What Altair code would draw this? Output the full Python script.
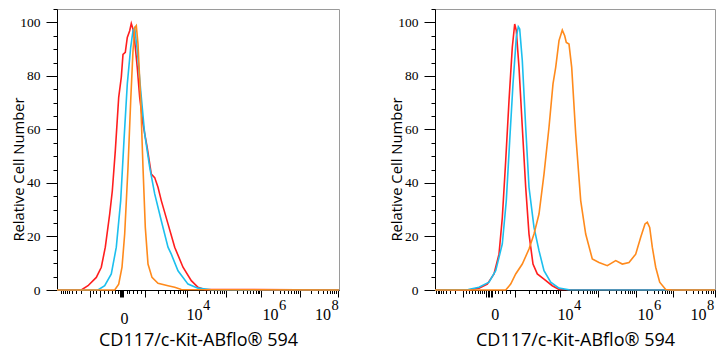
import math
import altair as alt
import pandas as pd

# ---------------- data (x = display position along the biexponential axis, 0 = left edge) ----------------
left_red_x = [0, 24.3, 31, 39.3, 44.3, 48.3, 52.7, 55.3, 58.3, 61.7, 64.3, 66, 68.3, 70.3, 72.7, 74.3, 76, 77.7,
              80.3, 82.7, 86, 90.3, 94.3, 97.7, 101, 104.3, 111, 117.7, 126, 134.3, 141, 147.7, 282]
left_red_y = [0, 0, 1.6, 4.7, 8.5, 16, 28.4, 37, 52, 72, 79.5, 88, 88.8, 94.4, 96.9, 99.6, 97.5, 93,
              83, 72, 62, 53, 43.3, 42, 38.4, 33.4, 24.7, 16, 8.5, 3.5, 1, 0.2, 0]
left_cyan_x = [0, 41, 47.7, 54.3, 59.3, 63.7, 67, 70.3, 73.7, 76, 77.7, 80.3, 83.7, 87.7, 92.7, 97.7, 104.3,
               111, 114.3, 121, 131, 141, 154.3, 282]
left_cyan_y = [0, 0, 1.6, 6, 16, 33.4, 56, 77, 90.7, 96.9, 98, 89.4, 74.5, 58.3, 45.8, 35.9, 25.9,
               16, 13.4, 7.2, 2.2, 0.7, 0.1, 0]
left_orange_x = [0, 57.7, 61.7, 65, 67.7, 71, 73.7, 76, 77.7, 79.3, 81, 83.7, 86, 88.3, 91, 95, 101, 111,
                 117.7, 124.3, 282]
left_orange_y = [0, 0, 2.2, 8.5, 21, 45.8, 70.7, 89.4, 98, 98.8, 91.9, 70.7, 45.8, 23.4, 9.7, 4.7, 2.5, 1.6,
                 1, 0.2, 0]

right_red_x = [0, 34, 44, 52.3, 59, 64, 67.3, 70.7, 74, 77.3, 79.7, 81.3, 84, 87.3, 90.7, 94, 98, 102.3,
               109, 117.3, 124, 280]
right_red_y = [0, 0, 0.7, 2.2, 6, 13.4, 27, 48.3, 70.7, 90.7, 99.4, 96.9, 83.2, 60.8, 38.4, 20.9, 9.7, 6,
               4.1, 1.6, 0.2, 0]
right_cyan_x = [0, 33.3, 44, 54, 60.7, 67.3, 71.3, 74.7, 78, 81.3, 83.3, 84.7, 87.3, 90.7, 94, 99, 104,
                109, 115.7, 124, 134, 280]
right_cyan_y = [0, 0.2, 1, 2.9, 7.2, 17.2, 33.4, 55.8, 77, 94.4, 98.4, 97.5, 85.7, 60.8, 38.4, 23.4, 14.7,
                7.2, 2.9, 0.7, 0.1, 0]
right_orange_x = [0, 70.7, 75.7, 80.7, 87.3, 94, 99, 104, 109, 114, 118, 120.7, 124, 127.3, 129.7, 131.3,
                  134, 136.7, 140.7, 145.7, 150.7, 157.3, 164, 172.3, 180.7, 187.3, 194, 200.7, 205.7, 210,
                  212.3, 214.7, 217.3, 220.7, 224.7, 230.7, 237.3, 280]
right_orange_y = [0, 0, 2.2, 6, 9.7, 15.3, 20.9, 28.4, 43.3, 60.8, 77, 83.2, 93.2, 97.1, 95, 92.5,
                  91.9, 83.2, 58.3, 33.4, 20.9, 11.6, 10.3, 9.1, 11, 9.7, 10.3, 13.4, 19.7, 24.7,
                  25.3, 23.4, 16, 8.5, 2.9, 0.2, 0, 0]

# axis tick labels: base text and raised exponent
x_label_text = ["0", "10", "10", "10"]
x_label_exp = ["", "4", "6", "8"]
left_label_pos = [67, 137, 213, 265.6]
right_label_pos = [59.7, 130, 210, 263]

# axis major tick positions (display units)
left_major = [33, 43, 63, 64, 65, 66, 67, 88, 130, 169, 204, 243, 281]
right_major = [28, 51, 52.5, 54, 55.5, 57, 80, 125, 163, 201, 238, 280]
left_extra_minor = [36, 39, 47, 51, 55, 58, 60.5, 69.5, 72, 76, 80, 84]
right_extra_minor = [31, 34, 37, 40, 43, 45, 47, 49, 60, 63, 67, 71, 75]
left_decades = [(88, 130), (130, 169), (169, 204), (204, 243), (243, 281)]
right_decades = [(80, 125), (125, 163), (163, 201), (201, 238), (238, 280)]

SERIES_COLORS = {"red": "#FF1E1E", "cyan": "#1CBFEE", "orange": "#FF8A1C"}
Y_MAX = 105
PLOT_H = 281
SERIF = "Liberation Serif"
SANS = "Open Sans"


def log_minor(a, b):
    return [round(a + (b - a) * math.log10(m), 2) for m in range(2, 10)]


def neg_minor(a, span):
    return [round(a - span * math.log10(m), 2) for m in range(2, 10)]


def js_list(vals):
    return "[" + ",".join(repr(float(v)) for v in vals) + "]"


def x_axis(major, extra, decades, neg_span, label_pos):
    minor = list(extra) + neg_minor(major[0], neg_span)
    for a, b in decades:
        minor += log_minor(a, b)
    vals = sorted(set([float(v) for v in major + minor + label_pos]))
    lab_expr = ""
    for p, t in zip(label_pos, x_label_text):
        lab_expr += f"datum.value == {float(p)!r} ? '{t}' : "
    lab_expr += "''"
    major_test = f"indexof({js_list(major)}, datum.value) >= 0"
    label_test = f"indexof({js_list(label_pos)}, datum.value) >= 0"
    return alt.Axis(
        values=vals,
        labelExpr=lab_expr,
        tickSize={"condition": {"test": major_test, "value": 7}, "value": 3.5},
        tickOpacity={"condition": {"test": label_test, "value": 0}, "value": 1},
        tickColor="black",
        tickWidth=1,
        domainColor="black",
        grid=False,
        labelOverlap=False,
        labelFlush=False,
        labelFont=SERIF,
        labelFontSize=16,
        labelColor="black",
        labelBaseline="alphabetic",
        labelPadding=26,
        title="CD117/c-Kit-ABflo® 594",
        titleFont=SANS,
        titleFontSize=18,
        titleFontWeight="normal",
        titleColor="black",
        titleBaseline="alphabetic",
        titleY=55,
    )


y_axis = alt.Axis(
    values=list(range(0, 106, 5)),
    labelExpr="datum.value % 20 == 0 ? datum.label : ''",
    tickSize={"condition": {"test": "datum.value % 20 == 0", "value": 11}, "value": 4},
    tickColor="black",
    domainColor="black",
    grid=False,
    labelOverlap=False,
    labelFlush=False,
    labelFont=SERIF,
    labelFontSize=13.5,
    labelColor="black",
    labelPadding=6,
    title="Relative Cell Number",
    titleFont=SANS,
    titleFontSize=14.8,
    titleFontWeight="normal",
    titleColor="black",
    titleAngle=270,
    titleBaseline="alphabetic",
    titleX=-34,
    titleY=160,
)


def panel(series, width, major, extra, decades, neg_span, label_pos):
    xs = alt.Scale(domain=[0, width], nice=False, zero=False)
    ys = alt.Scale(domain=[0, Y_MAX], nice=False)
    layers = []
    for name, xv, yv in series:
        df = pd.DataFrame({"x": xv, "y": yv})
        layers.append(
            alt.Chart(df).mark_line(color=SERIES_COLORS[name], strokeWidth=1.6, interpolate="linear")
        )
    exp_df = pd.DataFrame({"x": [p for p, e in zip(label_pos, x_label_exp) if e],
                           "t": [e for e in x_label_exp if e]})
    layers.append(
        alt.Chart(exp_df)
        .mark_text(font=SERIF, fontSize=14.5, color="black", baseline="alphabetic", align="left", dx=9)
        .encode(text="t:N", y=alt.value(PLOT_H + 20))
    )
    return (
        alt.layer(*layers)
        .encode(
            x=alt.X("x:Q", scale=xs, axis=x_axis(major, extra, decades, neg_span, label_pos)),
            y=alt.Y("y:Q", scale=ys, axis=y_axis),
            order="x:Q",
        )
        .properties(width=width, height=PLOT_H)
    )


left = panel([("red", left_red_x, left_red_y), ("cyan", left_cyan_x, left_cyan_y),
              ("orange", left_orange_x, left_orange_y)],
             282, left_major, left_extra_minor, left_decades, 30, left_label_pos)
right = panel([("red", right_red_x, right_red_y), ("cyan", right_cyan_x, right_cyan_y),
               ("orange", right_orange_x, right_orange_y)],
              280, right_major, right_extra_minor, right_decades, 28, right_label_pos)

chart = (
    alt.hconcat(left, right, spacing=45)
    .properties(padding={"left": 10, "top": 1, "right": 5, "bottom": 0}, background="white")
    .configure_view(stroke="#9a9a9a", strokeWidth=1)
)

chart.save("out.html", embed_options={"renderer": "svg", "actions": False})
